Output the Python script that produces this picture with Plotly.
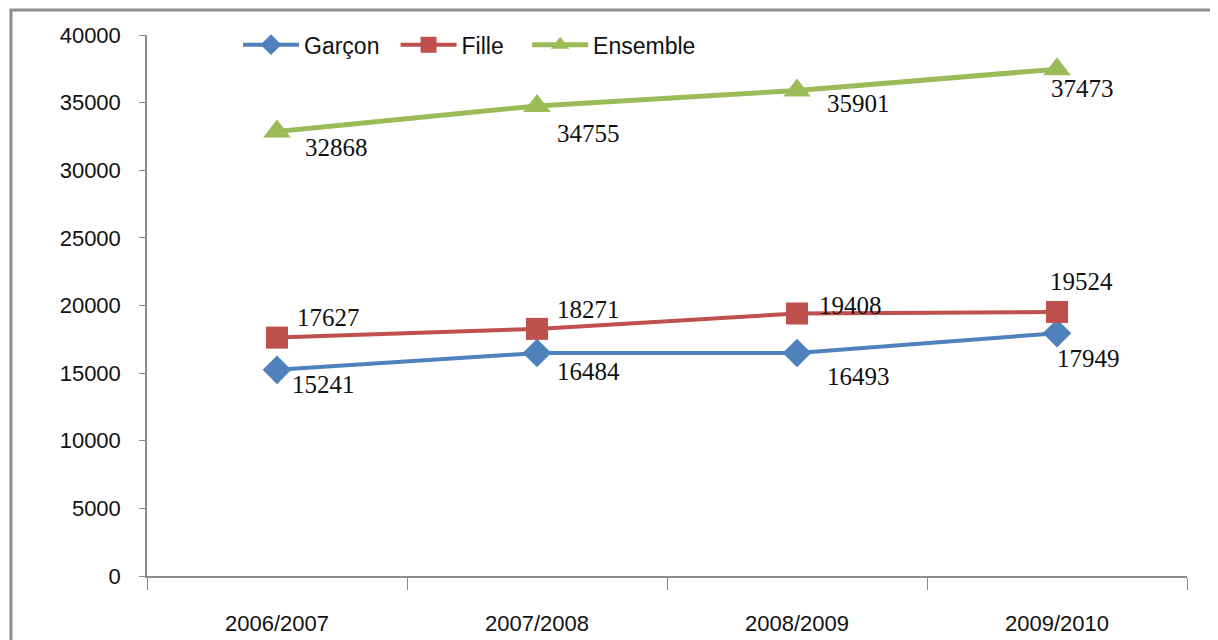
import plotly.graph_objects as go

categories = ["2006/2007", "2007/2008", "2008/2009", "2009/2010"]
garcon = [15241, 16484, 16493, 17949]
fille = [17627, 18271, 19408, 19524]
ensemble = [32868, 34755, 35901, 37473]
y_ticks = [0, 5000, 10000, 15000, 20000, 25000, 30000, 35000, 40000]
y_tick_labels = [str(v) for v in y_ticks]

BLUE = "#4F81BD"
RED = "#C0504D"
GREEN = "#9BBB59"

fig = go.Figure()
fig.add_trace(go.Scatter(x=categories, y=garcon, name="Garçon", mode="lines+markers",
                         line=dict(color=BLUE, width=4), legend="legend",
                         marker=dict(symbol="diamond", size=22, color=BLUE)))
fig.add_trace(go.Scatter(x=categories, y=fille, name="Fille", mode="lines+markers",
                         line=dict(color=RED, width=4), legend="legend2",
                         marker=dict(symbol="square", size=22, color=RED)))
fig.add_trace(go.Scatter(x=categories, y=ensemble, name="Ensemble", mode="lines+markers",
                         line=dict(color=GREEN, width=5), legend="legend3",
                         marker=dict(symbol="triangle-up", size=24, color=GREEN)))

# label offsets (pixels): left edge shift and vertical centre shift
g_off = [(13, -15), (18, -18), (28, -24), (-2, -25)]
f_off = [(18, 20), (18, 19), (20, 8), (-9, 30)]
e_off = [(26, -16), (18, -28), (28, -13), (-8, -19)]
for vals, offs in ((garcon, g_off), (fille, f_off), (ensemble, e_off)):
    for c, v, (dx, dy) in zip(categories, vals, offs):
        fig.add_annotation(x=c, y=v, text=str(v), showarrow=False,
                           xanchor="left", yanchor="middle", xshift=dx, yshift=dy,
                           font=dict(family="Liberation Serif", size=25, color="#111"))

fig.add_shape(type="rect", xref="paper", yref="paper",
              x0=-0.1308, x1=1.05, y0=-0.18, y1=1.046,
              line=dict(color="#8C8C8C", width=3), fillcolor="rgba(0,0,0,0)", layer="below")

legend_style = dict(orientation="h", y=0.982, yanchor="middle", xanchor="left",
                    bgcolor="rgba(0,0,0,0)", itemwidth=56,
                    font=dict(family="Liberation Sans", size=23, color="#111"))

fig.update_layout(
    width=1218, height=640,
    margin=dict(l=139, r=39, t=27, b=58),
    paper_bgcolor="white", plot_bgcolor="white",
    showlegend=True,
    legend=dict(x=0.0875, **legend_style),
    legend2=dict(x=0.2390, **legend_style),
    legend3=dict(x=0.3655, **legend_style),
    xaxis=dict(type="category", range=[-0.5, 3.5], showgrid=False, showline=True,
               linecolor="#8C8C8C", linewidth=1.5, ticks="outside", tickson="boundaries",
               ticklen=12, tickcolor="#8C8C8C", ticklabelstandoff=27,
               tickfont=dict(family="Liberation Sans", size=22, color="#111")),
    yaxis=dict(range=[0, 40000], tickvals=y_ticks, ticktext=y_tick_labels,
               showgrid=False, showline=True,
               linecolor="#8C8C8C", linewidth=1.5, ticks="outside", ticklen=6,
               tickcolor="#8C8C8C", ticklabelstandoff=14, zeroline=False,
               tickfont=dict(family="Liberation Sans", size=22, color="#111")),
)

fig.write_html("out.html")
